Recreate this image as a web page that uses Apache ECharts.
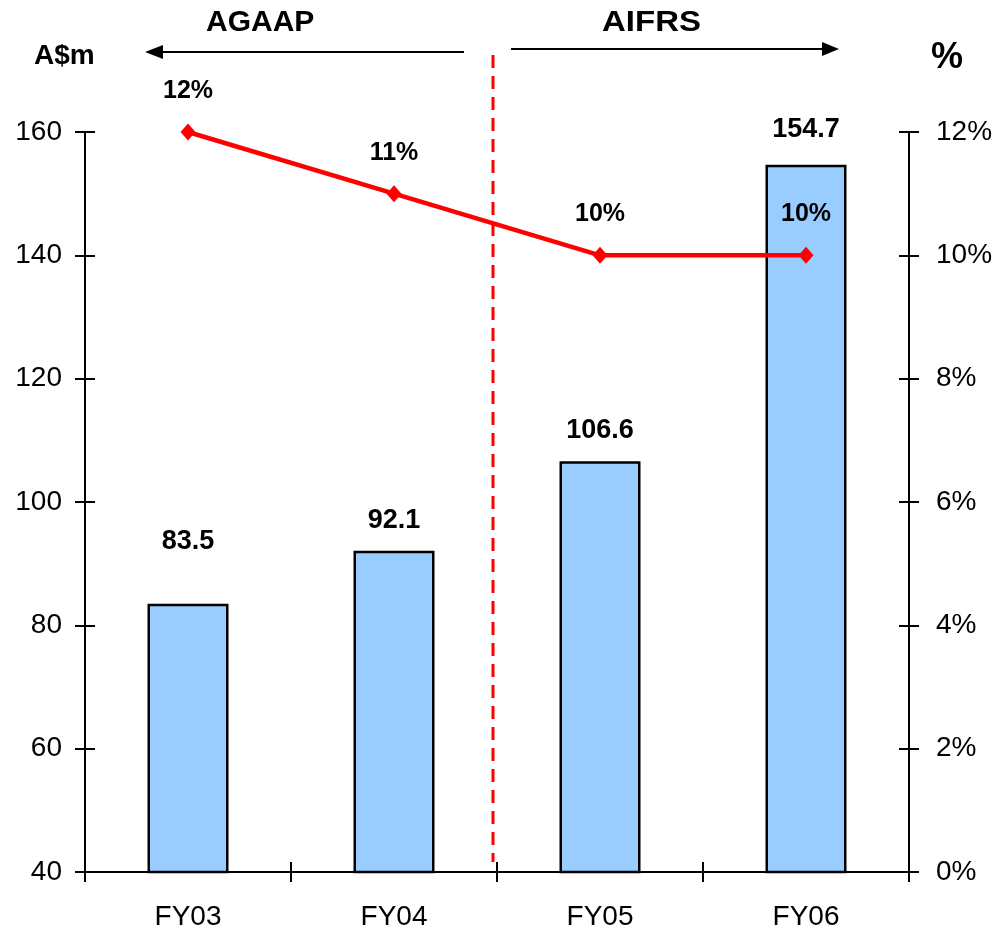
<!DOCTYPE html>
<html>
<head>
<meta charset="utf-8">
<script src="https://cdn.jsdelivr.net/npm/echarts@6/dist/echarts.min.js"></script>
<style>html,body{margin:0;padding:0;background:#fff;}#c{width:997px;height:932px;}</style>
</head>
<body>
<div id="c"></div>
<script>
const categories = ['FY03', 'FY04', 'FY05', 'FY06'];
const amountValues = [83.5, 92.1, 106.6, 154.7];
const percentValues = [12, 11, 10, 10];
const leftAxisRange = [40, 160, 20];
const rightAxisRange = [0, 12, 2];

const FONT = '"Liberation Sans", Arial, sans-serif';
const chart = echarts.init(document.getElementById('c'), null, {renderer: 'canvas'});
const barLabelDistance = [49, 17, 17, 22];

const tickStyle = {color: '#000', width: 2};
const option = {
  animation: false,
  backgroundColor: '#fff',
  grid: {left: 85, right: 88, top: 132, bottom: 60, containLabel: false},
  xAxis: [
    {type: 'category', data: categories, position: 'bottom',
     axisLine: {lineStyle: {color: '#000', width: 2}},
     axisTick: {show: true, length: 10, inside: false, lineStyle: tickStyle},
     axisLabel: {color: '#000', fontSize: 28, fontFamily: FONT, margin: 31}},
    {type: 'category', data: categories, position: 'bottom',
     axisLine: {show: false},
     axisTick: {show: true, length: 10, inside: true, lineStyle: tickStyle},
     axisLabel: {show: false}}
  ],
  yAxis: [
    {type: 'value', position: 'left', min: leftAxisRange[0], max: leftAxisRange[1], interval: leftAxisRange[2],
     splitLine: {show: false},
     axisLine: {show: true, lineStyle: {color: '#000', width: 2}},
     axisTick: {show: true, length: 10, lineStyle: tickStyle},
     axisLabel: {color: '#000', fontSize: 28, fontFamily: FONT, margin: 23}},
    {type: 'value', position: 'right', min: rightAxisRange[0], max: rightAxisRange[1], interval: rightAxisRange[2],
     splitLine: {show: false},
     axisLine: {show: true, lineStyle: {color: '#000', width: 2}},
     axisTick: {show: true, length: 10, lineStyle: tickStyle},
     axisLabel: {color: '#000', fontSize: 28, fontFamily: FONT, margin: 27, formatter: '{value}%'}},
    {type: 'value', position: 'left', min: leftAxisRange[0], max: leftAxisRange[1], interval: leftAxisRange[2],
     splitLine: {show: false}, axisLine: {show: false},
     axisTick: {show: true, inside: true, length: 10, lineStyle: tickStyle},
     axisLabel: {show: false}},
    {type: 'value', position: 'right', min: rightAxisRange[0], max: rightAxisRange[1], interval: rightAxisRange[2],
     splitLine: {show: false}, axisLine: {show: false},
     axisTick: {show: true, inside: true, length: 10, lineStyle: tickStyle},
     axisLabel: {show: false}}
  ],
  series: [
    {type: 'bar', xAxisIndex: 0, yAxisIndex: 0, barWidth: 81,
     data: amountValues.map((v, i) => ({value: v, label: {distance: barLabelDistance[i]}})),
     itemStyle: {color: '#99CCFF', borderColor: '#000', borderWidth: 2.5},
     label: {show: true, position: 'top', color: '#000', fontSize: 27, fontWeight: 'bold', fontFamily: FONT,
             formatter: p => p.value.toFixed(1)}},
    {type: 'line', xAxisIndex: 0, yAxisIndex: 1, data: percentValues, z: 3,
     symbol: 'diamond', symbolSize: [15, 17],
     lineStyle: {color: '#FF0000', width: 4.5},
     itemStyle: {color: '#FF0000'},
     label: {show: true, position: 'top', distance: 20, color: '#000', fontSize: 25, fontWeight: 'bold', fontFamily: FONT,
             formatter: p => p.value + '%'}}
  ],
  graphic: [
    {type: 'text', left: 206, top: 8, style: {text: 'AGAAP', font: 'bold 30px ' + FONT, fill: '#000'}},
    {type: 'text', x: 602, y: 8, scaleX: 1.1, style: {text: 'AIFRS', font: 'bold 30px ' + FONT, fill: '#000'}},
    {type: 'text', left: 34, top: 42, style: {text: 'A$m', font: 'bold 28px ' + FONT, fill: '#000'}},
    {type: 'text', left: 931, top: 40, style: {text: '%', font: 'bold 36px ' + FONT, fill: '#000'}},
    {type: 'line', shape: {x1: 160, y1: 52, x2: 464, y2: 52}, style: {stroke: '#000', lineWidth: 2}},
    {type: 'polygon', shape: {points: [[145, 52], [163, 45], [163, 59]]}, style: {fill: '#000'}},
    {type: 'line', shape: {x1: 511, y1: 49, x2: 825, y2: 49}, style: {stroke: '#000', lineWidth: 2}},
    {type: 'polygon', shape: {points: [[839, 49], [822, 42], [822, 56]]}, style: {fill: '#000'}},
    {type: 'line', shape: {x1: 493, y1: 55, x2: 493, y2: 862}, style: {stroke: '#FF0000', lineWidth: 3, lineDash: [13, 8]}, z: 5}
  ]
};
chart.setOption(option);
</script>
</body>
</html>
